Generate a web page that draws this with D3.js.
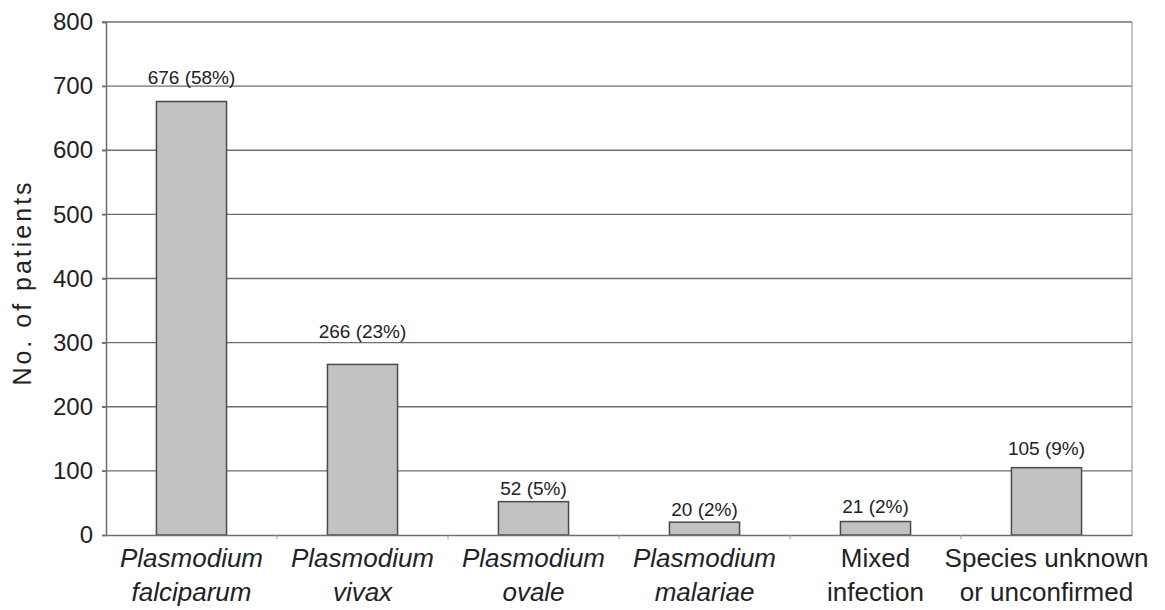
<!DOCTYPE html>
<html>
<head>
<meta charset="utf-8">
<script src="https://cdn.jsdelivr.net/npm/d3@7"></script>
<style>
  html, body { margin: 0; padding: 0; background: #fff; }
  svg { display: block; }
  text { font-family: "Liberation Sans", Arial, Helvetica, sans-serif; fill: #222; }
</style>
</head>
<body>
<svg id="chart" width="1165" height="610"></svg>
<script>
// ---- data ----
const categories = ["P. falciparum", "P. vivax", "P. ovale", "P. malariae", "Mixed infection", "Species unknown"];
const labelLine1 = ["Plasmodium", "Plasmodium", "Plasmodium", "Plasmodium", "Mixed", "Species unknown"];
const labelLine2 = ["falciparum", "vivax", "ovale", "malariae", "infection", "or unconfirmed"];
const labelItalic = [true, true, true, true, false, false];
const patients = [676, 266, 52, 20, 21, 105];
const percents = ["58%", "23%", "5%", "2%", "2%", "9%"];
const yTicks = [0, 100, 200, 300, 400, 500, 600, 700, 800];
const yTitle = "No. of patients";
// label gaps above bars (layout, px)
const labelGap = [18, 26, 7, 6, 9, 13];

// ---- layout ----
const svg = d3.select("#chart");
const mLeft = 106, mRight = 1132, mTop = 22, mBottom = 535;

const x = d3.scaleBand().domain(categories).range([mLeft, mRight])
  .paddingInner(0.59).paddingOuter(0.295);
const y = d3.scaleLinear().domain([0, 800]).range([mBottom, mTop]);

const gridColor = "#6e6e6e";

// gridlines
svg.append("g").selectAll("line").data(yTicks.filter(d => d > 0)).join("line")
  .attr("x1", mLeft - 4).attr("x2", mRight)
  .attr("y1", d => y(d)).attr("y2", d => y(d))
  .attr("stroke", gridColor).attr("stroke-width", 1.4);

// right border
svg.append("line").attr("x1", mRight).attr("x2", mRight)
  .attr("y1", y(800)).attr("y2", y(0))
  .attr("stroke", "#999").attr("stroke-width", 1.2);

// bars
svg.append("g").selectAll("rect").data(categories).join("rect")
  .attr("x", d => x(d))
  .attr("y", (d, i) => y(patients[i]))
  .attr("width", x.bandwidth())
  .attr("height", (d, i) => y(0) - y(patients[i]))
  .attr("fill", "#c2c2c2")
  .attr("stroke", "#4a4a4a")
  .attr("stroke-width", 1.5);

// y axis
const yAxis = d3.axisLeft(y).tickValues(yTicks).tickSize(4).tickPadding(9);
const gy = svg.append("g").attr("transform", `translate(${mLeft},0)`).call(yAxis);
gy.select(".domain").attr("stroke", gridColor).attr("stroke-width", 1.5);
gy.selectAll(".tick line").attr("stroke", gridColor).attr("stroke-width", 1.4);
gy.selectAll(".tick text").style("font-size", "24px").attr("fill", "#222")
  .style("font-family", "'Liberation Sans', Arial, sans-serif");

// x axis
const xAxis = d3.axisBottom(x).tickSize(0).tickFormat("");
const gx = svg.append("g").attr("transform", `translate(0,${mBottom})`).call(xAxis);
gx.select(".domain").attr("stroke", gridColor).attr("stroke-width", 1.5);
// category separator ticks
const step = x.step();
svg.append("g").selectAll("line").data(d3.range(1, categories.length)).join("line")
  .attr("x1", i => mLeft + i * step).attr("x2", i => mLeft + i * step)
  .attr("y1", mBottom).attr("y2", mBottom + 4)
  .attr("stroke", "#999").attr("stroke-width", 1);

// category labels
const lab = svg.append("g").selectAll("text").data(categories).join("text")
  .attr("text-anchor", "middle")
  .style("font-size", "26px")
  .style("font-style", (d, i) => labelItalic[i] ? "italic" : "normal");
lab.append("tspan").attr("x", d => x(d) + x.bandwidth() / 2).attr("y", 567)
  .text((d, i) => labelLine1[i]);
lab.append("tspan").attr("x", d => x(d) + x.bandwidth() / 2).attr("y", 601)
  .text((d, i) => labelLine2[i]);

// value labels
svg.append("g").selectAll("text").data(categories).join("text")
  .attr("x", d => x(d) + x.bandwidth() / 2)
  .attr("y", (d, i) => y(patients[i]) - labelGap[i])
  .attr("text-anchor", "middle")
  .style("font-size", "19px")
  .text((d, i) => `${patients[i]} (${percents[i]})`);

// y title
svg.append("text")
  .attr("transform", `translate(31,${(mTop + mBottom) / 2 + 4}) rotate(-90)`)
  .attr("text-anchor", "middle")
  .style("font-size", "25px")
  .style("letter-spacing", "3px")
  .text(yTitle);
</script>
</body>
</html>
